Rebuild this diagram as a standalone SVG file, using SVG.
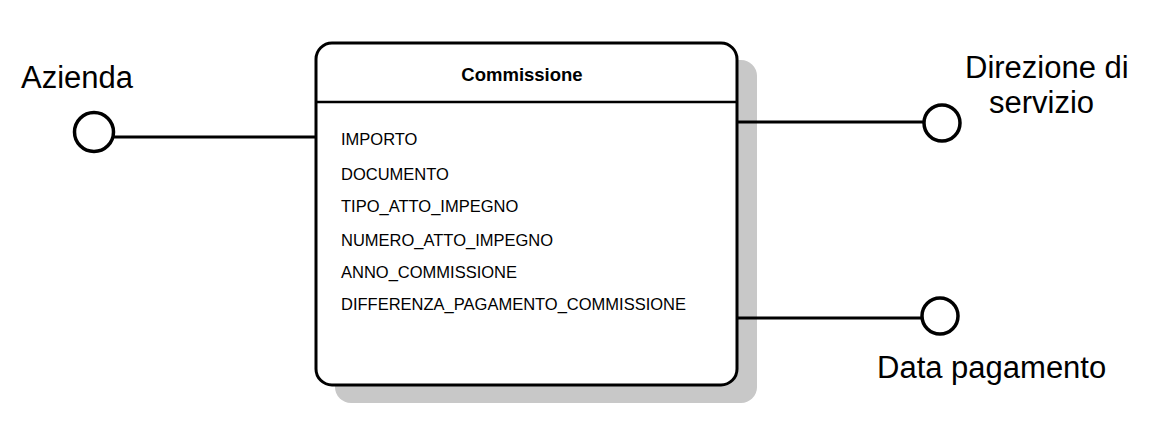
<svg xmlns="http://www.w3.org/2000/svg" width="1167" height="443" viewBox="0 0 1167 443">
<style>
.lbl{font-family:"Liberation Sans",Arial,sans-serif;font-size:31px;fill:#000}
.attr{font-family:"Liberation Sans",Arial,sans-serif;font-size:16.5px;fill:#000}
.title{font-family:"Liberation Sans",Arial,sans-serif;font-size:18.5px;font-weight:bold;fill:#000}
.ln{stroke:#000;stroke-width:3;fill:none}
.circ{stroke:#000;stroke-width:3.5;fill:#fff}
</style>
<rect width="1167" height="443" fill="#fff"/>
<g id="commissione">
<rect x="335" y="60" width="422" height="343" rx="16" fill="#c8c8c8"/>
<rect x="316" y="43" width="421" height="342" rx="16" fill="#fff" stroke="#000" stroke-width="3"/>
<line x1="316" y1="102" x2="737" y2="102" stroke="#000" stroke-width="2.5"/>
<text class="title" x="522" y="81" text-anchor="middle">Commissione</text>
<text class="attr" x="341" y="145">IMPORTO</text>
<text class="attr" x="341" y="180">DOCUMENTO</text>
<text class="attr" x="341" y="212">TIPO_ATTO_IMPEGNO</text>
<text class="attr" x="341" y="246">NUMERO_ATTO_IMPEGNO</text>
<text class="attr" x="341" y="278">ANNO_COMMISSIONE</text>
<text class="attr" x="341" y="310">DIFFERENZA_PAGAMENTO_COMMISSIONE</text>
</g>
<g id="connectors">
<line class="ln" x1="113" y1="137" x2="316" y2="137"/>
<line class="ln" x1="737" y1="122" x2="924" y2="122"/>
<line class="ln" x1="737" y1="318" x2="922" y2="318"/>
</g>
<g id="azienda">
<circle class="circ" cx="94" cy="132" r="19.5"/>
<text class="lbl" x="21" y="88">Azienda</text>
</g>
<g id="direzione">
<circle class="circ" cx="942" cy="123" r="18"/>
<text class="lbl" x="965" y="78">Direzione di</text>
<text class="lbl" x="989" y="113">servizio</text>
</g>
<g id="datapagamento">
<circle class="circ" cx="940" cy="316" r="18"/>
<text class="lbl" x="877" y="378">Data pagamento</text>
</g>
</svg>
